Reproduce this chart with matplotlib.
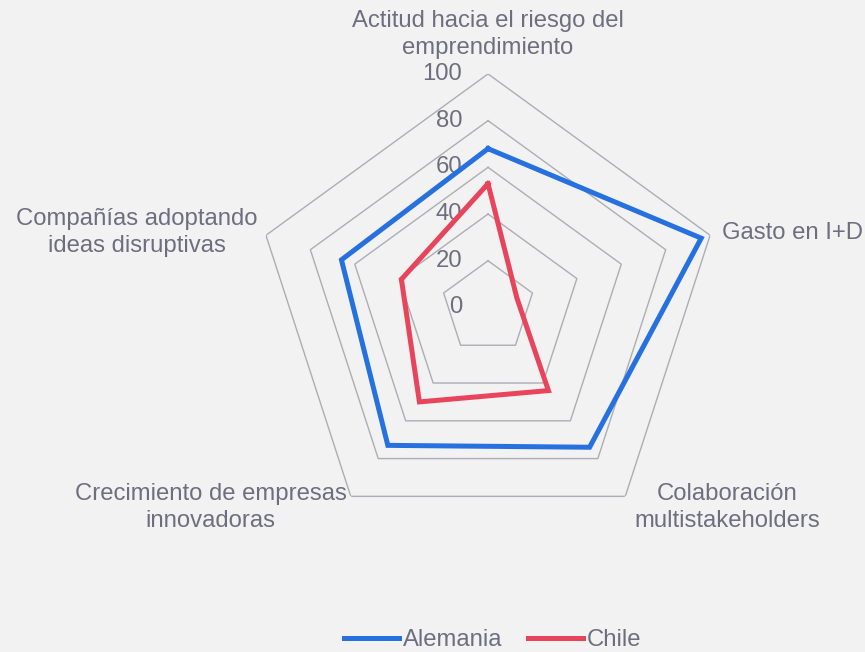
import numpy as np
import matplotlib.pyplot as plt

categories = ['Actitud hacia el riesgo del\nemprendimiento', 'Gasto en I+D',
              'Colaboración\nmultistakeholders', 'Crecimiento de empresas\ninnovadoras',
              'Compañías adoptando\nideas disruptivas']
alemania = [68, 96, 74, 73, 66]
chile = [53, 13, 44, 50, 39]
ticks = [0, 20, 40, 60, 80, 100]

plt.rcParams['font.family'] = ['Liberation Sans', 'DejaVu Sans']
txt_color = '#6E6E80'
grid_color = '#ADADB5'
bg = '#F2F2F2'
fs = 17.2

fig = plt.figure(figsize=(8.65, 6.52), dpi=100, facecolor=bg)
ax = fig.add_axes([0.2942, 0.1703, 0.54, 0.7163], projection='polar')
ax.set_facecolor('none')
ax.set_theta_offset(np.pi / 2)
ax.set_theta_direction(-1)
ax.set_ylim(0, 100)
ax.grid(False)
ax.spines['polar'].set_visible(False)
ax.set_xticks([])
ax.set_yticks([])

n = len(categories)
ang = np.linspace(0, 2 * np.pi, n, endpoint=False)
ang_c = np.append(ang, ang[0])

# pentagon grid
for t in ticks[1:]:
    ax.plot(ang_c, [t] * (n + 1), color=grid_color, lw=1.0, zorder=1)

for t in ticks:
    ax.annotate(str(t), xy=(0, t), xytext=(-26, 0), textcoords='offset pixels',
                ha='right', va='center', fontsize=fs, color=txt_color, zorder=2)

ax.plot(ang_c, alemania + alemania[:1], color='#2670E0', lw=3.6,
        solid_joinstyle='miter', zorder=3, label='Alemania')
ax.plot(ang_c, chile + chile[:1], color='#E8455C', lw=3.6,
        solid_joinstyle='miter', zorder=4, label='Chile')

# category labels
offsets = [(0, 39, 'center'), (12, 2, 'left'), (102, -11, 'center'),
           (-140, -11, 'center'), (-129, 3, 'center')]
for a, lab, (dx, dy, ha) in zip(ang, categories, offsets):
    ax.annotate(lab, xy=(a, 100), xytext=(dx, dy), textcoords='offset pixels',
                ha=ha, va='center', fontsize=fs, color=txt_color,
                linespacing=1.3, annotation_clip=False)

leg = fig.legend(loc='center', bbox_to_anchor=(0.5694, 12 / 652), ncol=2,
                 frameon=False, fontsize=fs, handlelength=2.3,
                 handletextpad=0.17, columnspacing=1.05, borderaxespad=0)
for t in leg.get_texts():
    t.set_color(txt_color)

fig.savefig('out.png', dpi=100, facecolor=bg)
